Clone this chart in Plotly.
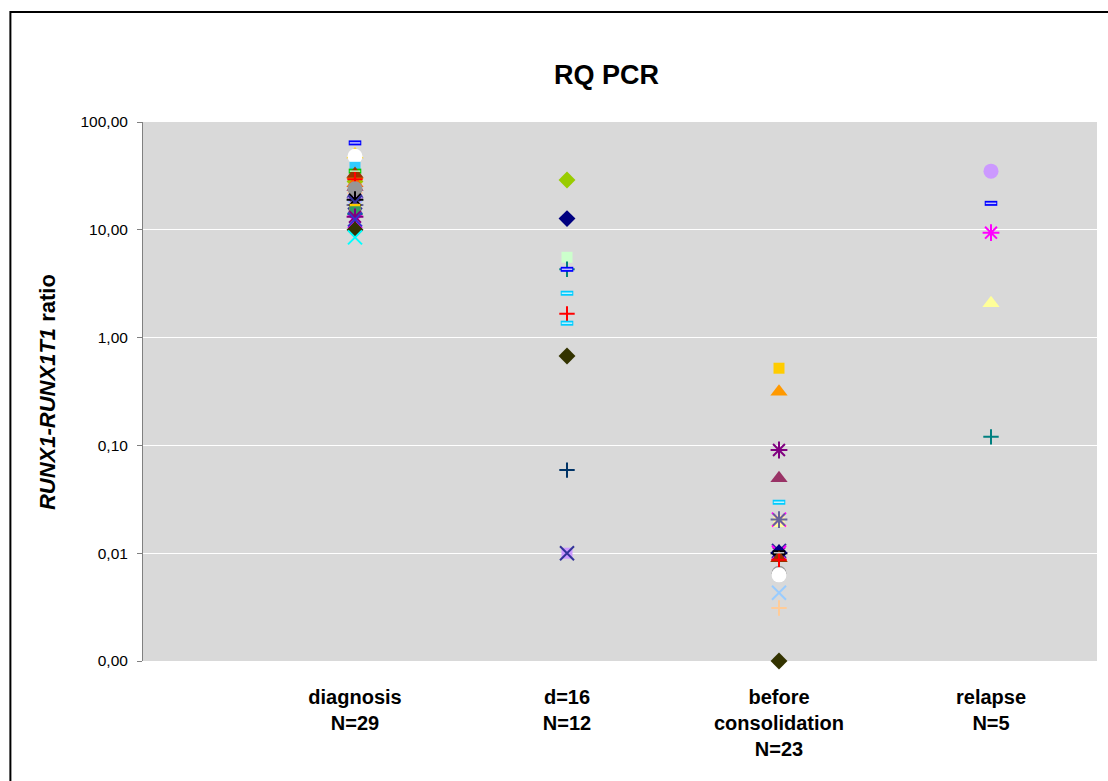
import plotly.graph_objects as go

# ---- data ----
categories = ["diagnosis<br>N=29", "d=16<br>N=12", "before<br>consolidation<br>N=23", "relapse<br>N=5"]
cat_pos = [1, 2, 3, 4]

diag_values = [30, 28, 20, 16, 22, 25, 32, 12, 20, 15, 14, 27, 17,
               64, 50, 48, 38, 35, 33, 29.5, 24, 19, 18, 15.5, 14.7, 13.2, 12.5, 10, 8.5]
diag_symbols = ["square", "diamond", "diamond", "x-thin", "cross-thin", "triangle-up", "triangle-up",
                "x-thin", "circle", "triangle-up", "cross-thin", "triangle-up", "asterisk",
                "line-ew", "triangle-up", "circle", "square", "line-ew", "triangle-up", "cross-thin",
                "circle", "asterisk", "x-thin", "square", "square", "asterisk", "x-thin", "diamond", "x-thin"]
diag_colors = ["#ccffcc", "#99cc00", "#000080", "#99ccff", "#ffcc99", "#993366", "#ff9900",
               "#ff00ff", "#cc99ff", "#ffff99", "#008080", "#ff6600", "#666699",
               "#0000ff", "#ffcc00", "#ffffff", "#33ccff", "#00cc00", "#993300", "#ff0000",
               "#969696", "#000000", "#333399", "#ffcc00", "#339966", "#800080", "#3333cc", "#333300", "#00ffff"]

d16_values = [29, 12.7, 5.56, 4.3, 4.3, 2.58, 1.66, 1.36, 0.675, 0.059, 0.01, 0.01]
d16_symbols = ["diamond", "diamond", "square", "cross-thin", "line-ew", "line-ew", "cross-thin",
               "line-ew", "diamond", "cross-thin", "square", "x-thin"]
d16_colors = ["#99cc00", "#000080", "#ccffcc", "#008080", "#0000ff", "#00ccff", "#ff0000",
              "#00ccff", "#333300", "#003366", "#cc99ff", "#333399"]

cons_values = [0.0095, 0.01, 0.009, 0.0105, 0.0065, 0.02,
               0.52, 0.315, 0.0906, 0.0495, 0.0297, 0.019, 0.0205, 0.0205, 0.0101, 0.0101,
               0.0101, 0.009, 0.0087, 0.0063, 0.0043, 0.0031, 0.001]
cons_symbols = ["square", "asterisk", "triangle-up", "x-thin", "circle", "square",
                "square", "triangle-up", "asterisk", "triangle-up", "line-ew", "triangle-up", "x-thin",
                "asterisk", "x-thin", "diamond", "line-ew", "triangle-up", "cross-thin", "circle",
                "x-thin", "cross-thin", "diamond"]
cons_colors = ["#339966", "#000000", "#ff6600", "#333399", "#969696", "#ffff99",
               "#ffcc00", "#ff9900", "#800080", "#993366", "#00ccff", "#ffff99", "#ff00ff",
               "#666699", "#ff00ff", "#000080", "#000000", "#993300", "#ff0000", "#ffffff",
               "#99ccff", "#ffcc99", "#333300"]

rel_values = [35, 17.6, 9.4, 2.08, 0.12]
rel_symbols = ["circle", "line-ew", "asterisk", "triangle-up", "cross-thin"]
rel_colors = ["#cc99ff", "#0000ff", "#ff00ff", "#ffff99", "#008080"]

y_tickvals = [0.001, 0.01, 0.1, 1, 10, 100]
y_ticktext = ["0,00", "0,01", "0,10", "1,00", "10,00", "100,00"]

# ---- styles ----
SIZE = {"diamond": 13, "square": 11, "triangle-up": 15, "circle": 15, "x-thin": 14,
        "cross-thin": 11, "asterisk": 14, "line-ew": 9}
LW = {"diamond": 0, "square": 0, "triangle-up": 0, "circle": 0, "x-thin": 2,
      "cross-thin": 2, "asterisk": 2, "line-ew": 5}


def lighten(hexcol, f=0.75):
    h = hexcol.lstrip("#")
    r, g, b = (int(h[i:i + 2], 16) for i in (0, 2, 4))
    r, g, b = (int(c + (255 - c) * f) for c in (r, g, b))
    return f"#{r:02x}{g:02x}{b:02x}"


FONT = "Liberation Sans, Arial, sans-serif"

fig = go.Figure()
groups = [(cat_pos[0], diag_values, diag_symbols, diag_colors),
          (cat_pos[1], d16_values, d16_symbols, d16_colors),
          (cat_pos[2], cons_values, cons_symbols, cons_colors),
          (cat_pos[3], rel_values, rel_symbols, rel_colors)]
for pos, vals, syms, cols in groups:
    fig.add_trace(go.Scatter(
        x=[pos] * len(vals), y=vals, mode="markers", showlegend=False, cliponaxis=False,
        marker=dict(symbol=syms, color=cols, size=[SIZE[s] for s in syms], opacity=1,
                    line=dict(color=cols, width=[LW[s] for s in syms])),
    ))
    # light inner stroke for the "dash" markers (Excel style hollow bar)
    idx = [i for i, s in enumerate(syms) if s == "line-ew"]
    if idx:
        fig.add_trace(go.Scatter(
            x=[pos] * len(idx), y=[vals[i] for i in idx], mode="markers", showlegend=False,
            hoverinfo="skip", cliponaxis=False,
            marker=dict(symbol="line-ew", size=[SIZE["line-ew"] - 1.5] * len(idx), opacity=1,
                        line=dict(color=[lighten(cols[i]) for i in idx], width=1.5)),
        ))

fig.update_layout(
    width=1108, height=781,
    margin=dict(l=143, r=11, t=122, b=120),
    paper_bgcolor="white", plot_bgcolor="#d9d9d9",
    font=dict(family=FONT, color="black"),
    xaxis=dict(range=[0, 4.5], tickvals=cat_pos, ticktext=categories, showgrid=False,
               zeroline=False, showline=False, ticks="", ticklabelstandoff=22,
               tickfont=dict(size=20, family=FONT, color="black", weight="bold")),
    yaxis=dict(type="log", range=[-3, 2], tickvals=y_tickvals, ticktext=y_ticktext,
               showgrid=True, gridcolor="white", gridwidth=1,
               showline=True, linecolor="#808080", linewidth=1,
               ticks="outside", ticklen=5, tickcolor="#808080", ticklabelstandoff=6,
               tickfont=dict(size=15.5, family=FONT, color="black")),
    annotations=[
        dict(text="<b>RQ PCR</b>", x=0.486, y=1.087, xref="paper", yref="paper",
             xanchor="center", yanchor="middle",
             showarrow=False, font=dict(size=27, family=FONT, color="black")),
        dict(text="<b><i>RUNX1-RUNX1T1</i> ratio</b>", x=-0.1006, y=0.499, xref="paper", yref="paper",
             xanchor="center", yanchor="middle",
             textangle=-90, showarrow=False, font=dict(size=22, family=FONT, color="black")),
    ],
    shapes=[dict(type="rect", xref="paper", yref="paper", x0=-0.139, x1=1.3, y0=-0.5, y1=1.204,
                 line=dict(color="black", width=2), fillcolor="rgba(0,0,0,0)", layer="above")],
)

fig.write_html("out.html")
